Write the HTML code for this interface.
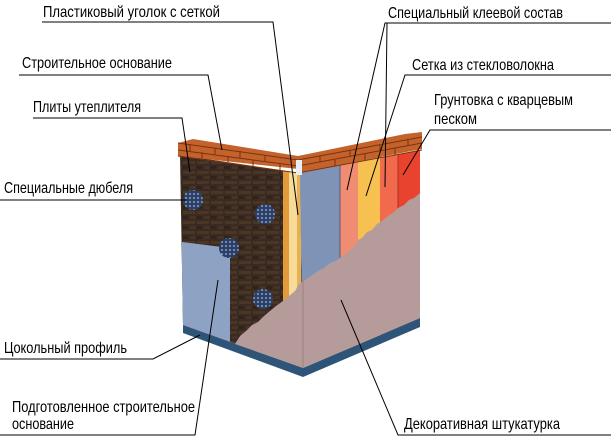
<!DOCTYPE html>
<html><head><meta charset="utf-8"><style>
html,body{margin:0;padding:0;background:#fff;}
svg{display:block;}
text{font-family:"Liberation Sans",sans-serif;font-size:16px;fill:#000;}
</style></head><body>
<svg width="611" height="439" viewBox="0 0 611 439" xmlns="http://www.w3.org/2000/svg">
<defs>
<clipPath id="lf"><polygon points="180,155 300,173 303,368 183,325"/></clipPath>
<clipPath id="rf"><polygon points="300,173 420,150 420,318 303,368"/></clipPath>
<pattern id="brk" width="14" height="10" patternUnits="userSpaceOnUse">
<rect width="14" height="10" fill="#3b2a1f"/>
<rect x="1" y="1" width="12" height="3" fill="#4a3626"/>
<rect x="-6" y="6" width="12" height="3" fill="#2f231b"/>
<rect x="8" y="6" width="12" height="3" fill="#45332a"/>
</pattern>
<pattern id="dw" width="4" height="4" patternUnits="userSpaceOnUse">
<rect width="4" height="4" fill="#2c3f66"/>
<circle cx="2" cy="2" r="1" fill="#8aa0c8"/>
</pattern>
</defs>

<polygon points="183,325 303,368 420,318 420,327 303,377 183,333" fill="#2e5478"/>
<polygon points="180,155 300,173 303,368 183,325" fill="url(#brk)"/>
<g clip-path="url(#lf)">
<polygon points="182,242 230,248 230,345 182,330" fill="#8ea3c4"/>
<rect x="283" y="160" width="6" height="200" fill="#e29a3a"/>
<rect x="289" y="160" width="8" height="200" fill="#f6dc98"/>
<rect x="297" y="160" width="4" height="200" fill="#e8b050"/>
</g>
<g clip-path="url(#rf)">
<rect x="300" y="140" width="40" height="240" fill="#7f93b6"/>
<rect x="340" y="140" width="18" height="240" fill="#f08c72"/>
<rect x="358" y="140" width="22" height="240" fill="#f6c150"/>
<rect x="380" y="140" width="18" height="240" fill="#f26a4e"/>
<rect x="398" y="140" width="22" height="240" fill="#e8432f"/>
<line x1="340" y1="140" x2="340" y2="380" stroke="#5a5a70" stroke-width="1"/>
<line x1="398" y1="140" x2="398" y2="380" stroke="#b03020" stroke-width="1"/>
</g>
<circle cx="193" cy="200" r="10" fill="url(#dw)"/>
<circle cx="265" cy="214" r="10" fill="url(#dw)"/>
<circle cx="229" cy="248" r="10" fill="url(#dw)"/>
<circle cx="263" cy="299" r="10" fill="url(#dw)"/>
<polygon points="235,344 240,336 246,331 252,325 258,322 264,316 270,311 276,306 283,301 289,296 295,291 299,284 305,280 311,276 318,271 324,268 330,263 336,261 341,257 346,254 351,249 355,246 358,240 362,238 367,232 372,230 377,224 382,221 388,216 393,213 398,208 404,205 409,200 414,198 420,193 420,318 303,368" fill="#b59c9a"/>
<line x1="303" y1="280" x2="303" y2="368" stroke="#9a8280" stroke-width="1"/>
<polygon points="178,143 193,139 298,156 298,169 178,156" fill="#c4622c"/>
<polygon points="298,156 405,134 422,132 422,149 298,173 298,169" fill="#c4622c"/>
<g stroke="#7a3210" stroke-width="1" fill="none">
<polyline points="178,143 298,160 422,137"/>
<polyline points="178,150 298,166 422,143"/>
<polyline points="178,156 298,173 422,150"/>
<line x1="190" y1="144" x2="190" y2="151"/><line x1="215" y1="148" x2="215" y2="154"/><line x1="240" y1="151" x2="240" y2="158"/><line x1="265" y1="155" x2="265" y2="161"/>
<line x1="202" y1="152" x2="202" y2="158"/><line x1="228" y1="156" x2="228" y2="162"/><line x1="253" y1="160" x2="253" y2="166"/><line x1="280" y1="163" x2="280" y2="170"/>
<line x1="320" y1="156" x2="320" y2="162"/><line x1="350" y1="150" x2="350" y2="156"/><line x1="380" y1="145" x2="380" y2="151"/><line x1="408" y1="139" x2="408" y2="146"/>
<line x1="335" y1="160" x2="335" y2="166"/><line x1="365" y1="154" x2="365" y2="160"/><line x1="395" y1="148" x2="395" y2="155"/>
</g>
<polygon points="296,160 302,160 302,175 296,175" fill="#e8eef8"/>

<g stroke="#000" stroke-width="1" fill="none">
<polyline points="42,22 273,22 298,215"/>
<polyline points="19,75 208,75 222,150"/>
<polyline points="33,118 182,118 190,172"/>
<polyline points="0,200 186,200"/>
<polyline points="0,359 153,359 200,335"/>
<polyline points="0,435 195,435 218,280"/>
<polyline points="611,435 398,435 341,300"/>
<polyline points="611,23 385,23 347,190"/>
<line x1="387" y1="23" x2="385" y2="187"/>
<polyline points="611,75 405,75 366,196"/>
<polyline points="611,130 430,130 403,175"/>
</g>

<text x="43" y="17" textLength="177" lengthAdjust="spacingAndGlyphs">Пластиковый уголок с сеткой</text>
<text x="22" y="68" textLength="150" lengthAdjust="spacingAndGlyphs">Строительное основание</text>
<text x="33" y="112" textLength="108" lengthAdjust="spacingAndGlyphs">Плиты утеплителя</text>
<text x="4" y="193" textLength="129" lengthAdjust="spacingAndGlyphs">Специальные дюбеля</text>
<text x="4" y="353" textLength="123" lengthAdjust="spacingAndGlyphs">Цокольный профиль</text>
<text x="12" y="412" textLength="183" lengthAdjust="spacingAndGlyphs">Подготовленное строительное</text>
<text x="12" y="429" textLength="62" lengthAdjust="spacingAndGlyphs">основание</text>
<text x="404" y="429" textLength="156" lengthAdjust="spacingAndGlyphs">Декоративная штукатурка</text>
<text x="388" y="18" textLength="175" lengthAdjust="spacingAndGlyphs">Специальный клеевой состав</text>
<text x="412" y="70" textLength="142" lengthAdjust="spacingAndGlyphs">Сетка из стекловолокна</text>
<text x="434" y="105" textLength="139" lengthAdjust="spacingAndGlyphs">Грунтовка с кварцевым</text>
<text x="434" y="124" textLength="43" lengthAdjust="spacingAndGlyphs">песком</text>
</svg>
</body></html>
